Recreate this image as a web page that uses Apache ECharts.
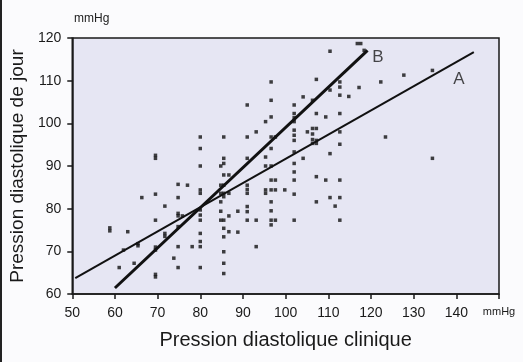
<!DOCTYPE html>
<html>
<head>
<meta charset="utf-8">
<script src="https://cdn.jsdelivr.net/npm/echarts@6/dist/echarts.min.js"></script>
<style>
  html, body {margin: 0; padding: 0; background: #fbfbfd;}
  #chart {width: 523px; height: 362px;}
</style>
</head>
<body>
<div id="chart"></div>
<script>
// clinical diastolic (x) vs daytime diastolic (y), mmHg
var points = [
  [58.8, 75.5], [58.8, 74.8], [61, 66.2], [62, 70.3], [63, 74.6], [64.5, 67.2], [65.4, 71.3], [65.4, 71.8],
  [66.3, 82.6], [69.5, 92.5], [69.5, 91.8], [69.5, 83.4], [69.5, 77.3], [69.5, 71], [69.5, 70.3],
  [69.5, 64.6], [69.5, 64.0], [71.7, 80.6], [71.7, 74.2], [71.7, 73.5], [73.8, 68.4],
  [74.8, 85.7], [74.8, 82.6], [74.8, 78.9], [74.8, 78.3], [74.8, 75.8], [74.8, 71.1], [74.8, 66.2],
  [75.8, 78.3], [77, 85.5], [78.1, 71.1],
  [80, 96.8], [80, 94.1], [80, 90], [80, 84.4], [80, 83.6], [80, 79.7], [80, 78.5], [80, 77.3],
  [80, 74.2], [80, 72.3], [80, 71.1], [80, 66.2],
  [84.8, 90], [84.8, 85.5], [84.8, 83.6], [84.8, 81.6], [84.8, 79.4], [84.8, 77.3],
  [85.5, 96.8], [85.5, 91.8], [85.5, 90.6], [85.5, 87.9], [85.5, 85.5], [85.5, 83.6], [85.5, 82.8],
  [85.5, 77.3], [85.5, 75.4], [85.5, 73.4], [85.5, 69.9], [85.5, 67.2], [85.5, 64.8],
  [86.7, 87.9], [86.7, 83.6], [86.7, 78.3], [86.7, 74.6], [88.8, 79.4], [88.8, 74.5],
  [91, 104.3], [91, 96.8], [91, 91.8], [91, 85.5], [91, 84.5], [91, 83.6], [91, 80.5], [91, 79.3], [91, 77.3],
  [93.1, 98], [93.1, 77.3], [93.1, 71.1],
  [95.3, 100.4], [95.3, 92.1], [95.3, 90], [95.3, 84.4], [95.3, 83.6],
  [96.6, 109.7], [96.6, 105.4], [96.6, 101.5], [96.6, 96.8], [96.6, 94.1], [96.6, 90], [96.6, 86.7],
  [96.6, 84.4], [96.6, 81.6], [96.6, 79.5], [96.6, 77.3], [96.6, 76.2],
  [97.6, 96.8], [97.6, 86.7], [97.6, 84.4], [97.6, 77.3], [99.8, 84.4],
  [102, 104.3], [102, 102.3], [102, 101.3], [102, 100.4], [102, 98.4], [102, 97.2], [102, 96],
  [102, 93.3], [102, 90.6], [102, 88.6], [102, 86.7], [102, 83.4], [102, 77.3],
  [104.1, 106.2], [104.1, 91.8], [105.1, 98], [106.3, 105.4], [106.3, 98.8], [106.3, 97.5], [106.3, 96.2], [106.3, 95.3],
  [107.2, 110.3], [107.2, 102.3], [107.2, 98.8], [107.2, 96], [107.2, 95.3], [107.2, 87.5], [107.2, 81.6],
  [109.4, 101.5], [109.4, 86.7], [110.4, 116.9], [110.4, 107.8], [110.4, 92.9], [110.4, 82.6], [111.6, 80.6],
  [112.7, 109.7], [112.7, 108.5], [112.7, 106.6], [112.7, 102.3], [112.7, 98], [112.7, 95.1],
  [112.7, 86.7], [112.7, 82.6], [112.7, 77.3], [114.8, 106.3],
  [116.8, 118.7], [117.6, 118.7], [117.2, 108.4], [118.4, 117.1],
  [122.3, 109.7], [123.4, 96.8], [127.7, 111.3], [134.4, 112.4], [134.4, 91.8]
];
// regression lines
var lineA = [[50.7, 63.7], [144.1, 116.7]];
var lineB = [[60, 61.4], [119.2, 117.1]];
var lineLabels = [['A', 140.6, 110.3], ['B', 121.6, 115.5]];
var xTicks = [50, 60, 70, 80, 90, 100, 110, 120, 130, 140, 150];
var yTicks = [60, 70, 80, 90, 100, 110, 120];

var font = 'Liberation Sans, Arial, sans-serif';
var chart = echarts.init(document.getElementById('chart'));
chart.setOption({
  animation: false,
  backgroundColor: '#fbfbfd',
  textStyle: {fontFamily: font},
  grid: {
    left: 72, right: 24, top: 38, bottom: 68,
    show: true, backgroundColor: '#e6e6f3', borderColor: '#1a1a1a', borderWidth: 1.5
  },
  graphic: [
    {type: 'rect', left: 0, top: 0, shape: {width: 2, height: 362}, style: {fill: '#222'}},
    {type: 'text', left: 74, top: 13, style: {text: 'mmHg', fontSize: 12, fill: '#222', fontFamily: font}}
  ],
  xAxis: {
    type: 'value',
    min: xTicks[0], max: xTicks[xTicks.length - 1], interval: 10,
    name: 'Pression diastolique clinique',
    nameLocation: 'middle', nameGap: 36,
    nameTextStyle: {fontSize: 20, color: '#1a1a1a'},
    axisLine: {lineStyle: {color: '#1a1a1a', width: 1.5}},
    axisTick: {show: true, length: 5, lineStyle: {color: '#1a1a1a', width: 1.5}},
    axisLabel: {
      color: '#1a1a1a', fontSize: 14, margin: 12,
      formatter: function (v) { return v === 150 ? '{u|mmHg}' : String(v); },
      rich: {u: {fontSize: 11, color: '#1a1a1a', padding: [0, 0, 2, 0]}}
    },
    splitLine: {show: false}
  },
  yAxis: {
    type: 'value',
    min: yTicks[0], max: yTicks[yTicks.length - 1], interval: 10,
    name: 'Pression diastolique de jour',
    nameLocation: 'middle', nameGap: 45,
    nameTextStyle: {fontSize: 19, color: '#1a1a1a'},
    axisLine: {lineStyle: {color: '#1a1a1a', width: 1.5}},
    axisTick: {show: true, length: 5, lineStyle: {color: '#1a1a1a', width: 1.5}},
    axisLabel: {color: '#1a1a1a', fontSize: 14, margin: 11},
    splitLine: {show: false}
  },
  series: [
    {
      type: 'scatter',
      data: points,
      symbol: 'rect',
      symbolSize: 3.5,
      itemStyle: {color: '#111'}
    },
    {
      type: 'line', data: lineA, symbol: 'none',
      lineStyle: {color: '#111', width: 2}
    },
    {
      type: 'line', data: lineB, symbol: 'none',
      lineStyle: {color: '#111', width: 3}
    },
    {
      type: 'scatter',
      data: lineLabels.map(function (d) { return {name: d[0], value: [d[1], d[2]]}; }),
      symbolSize: 0,
      label: {
        show: true, position: 'inside', formatter: '{b}',
        fontSize: 17, color: '#1a1a1a'
      }
    }
  ]
});
</script>
</body>
</html>
